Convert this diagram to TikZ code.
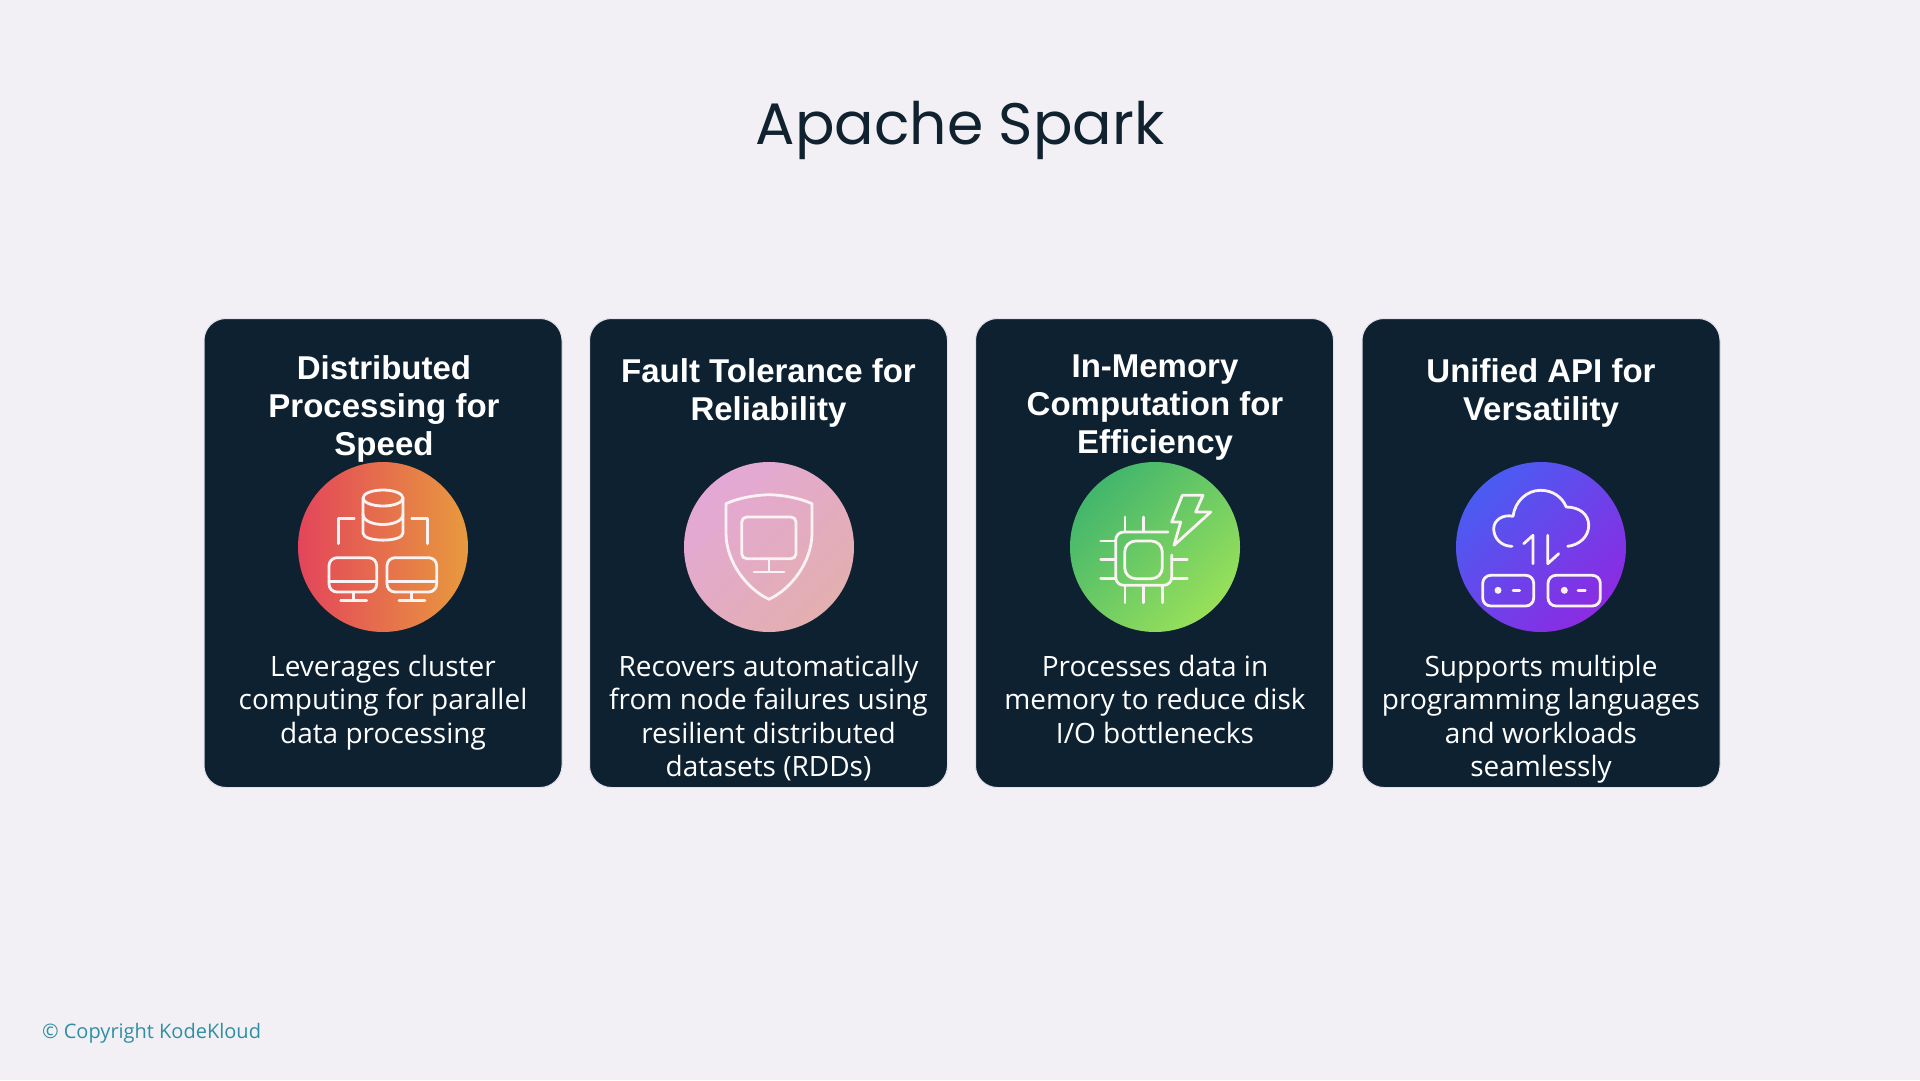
\documentclass[tikz,border=0pt]{standalone}
\usepackage{fontspec}
\setmainfont{Open Sans}
\newfontfamily\titlefont{Poppins}
\newfontfamily\headfont{Liberation Sans}
\usetikzlibrary{
    positioning,            % Relative positioning of nodes.
    shapes.geometric
}
\definecolor{pagebg}{HTML}{F2F0F4}
\definecolor{cardbg}{HTML}{0E2131}
\definecolor{cardedge}{HTML}{E2E2EC}
\definecolor{titleink}{HTML}{10222F}
\definecolor{footink}{HTML}{2E8FA3}
\definecolor{iconink}{HTML}{FBF3F3}
\definecolor{speedA}{HTML}{E3455A}
\definecolor{speedB}{HTML}{E2824D}
\definecolor{speedC}{HTML}{E89A3E}
\definecolor{faultA}{HTML}{E3A8D6}
\definecolor{faultB}{HTML}{E3AFAF}
\definecolor{memoryA}{HTML}{42B66C}
\definecolor{memoryB}{HTML}{98E05B}
\definecolor{unifiedA}{HTML}{4A5CF2}
\definecolor{unifiedB}{HTML}{8B2BE2}

\begin{document}
\begin{tikzpicture}[x=1pt, y=-1pt, line join=round,
        card/.style={draw=cardedge, line width=1pt, fill=cardbg, rounded corners=22pt,
            minimum width=358pt, minimum height=469pt},
        cardhead/.style={text=white, align=center, font=\headfont\fontsize{33}{38}\selectfont\bfseries, inner sep=0pt},
        cardbody/.style={text=white, align=center, anchor=north, font=\fontsize{28}{33.5}\selectfont, inner sep=0pt},
        iconcircle/.style={circle, minimum size=170pt, inner sep=0pt},
        iconline/.style={draw=iconink, line width=2.8pt, line cap=round}
    ]
    \useasboundingbox (0,0) rectangle (1920,1080);
    \fill[pagebg] (0,0) rectangle (1920,1080);

    \node[text=titleink, font=\titlefont\fontsize{58.5}{70}\selectfont] (title) at (960,130) {Apache Spark};
    \node[text=footink, anchor=west, font=\fontsize{20}{24}\selectfont] (foot) at (38.5,1033) {© Copyright KodeKloud};

    \node[card] (card1) at (383,553) {};
    \node[card] (card2) at (768.5,553) {};
    \node[card] (card3) at (1154.5,553) {};
    \node[card] (card4) at (1541,553) {};

    \node[cardhead] (head1) at (384,409) {Distributed\\Processing for\\Speed};
    \node[cardhead] (head2) at (768.5,393) {Fault Tolerance for\\Reliability};
    \node[cardhead] (head3) at (1155,408) {In-Memory\\Computation for\\Efficiency};
    \node[cardhead] (head4) at (1541,393) {Unified API for\\Versatility};

    \node[iconcircle, left color=speedA, middle color=speedB, right color=speedC] (icon1) at (383,547) {};
    \node[iconcircle, left color=faultA, right color=faultB, shading angle=45] (icon2) at (769,547) {};
    \node[iconcircle, left color=memoryA, right color=memoryB, shading angle=45] (icon3) at (1155,547) {};
    \node[iconcircle, left color=unifiedA, right color=unifiedB, shading angle=45] (icon4) at (1541,547) {};

    \node[cardbody] (body1) at (383,652.5) {\strut Leverages cluster\\computing for parallel\\data processing};
    \node[cardbody] (body2) at (768.5,652.5) {\strut Recovers automatically\\from node failures using\\resilient distributed\\datasets (RDDs)};
    \node[cardbody] (body3) at (1155,652.5) {\strut Processes data in\\memory to reduce disk\\I/O bottlenecks};
    \node[cardbody] (body4) at (1541,652.5) {\strut Supports multiple\\programming languages\\and workloads\\seamlessly};

    % database and two monitors
    \begin{scope}[shift={(icon1.center)}]
        \draw[iconline] (0,-49) ellipse [x radius=20, y radius=8];
        \draw[iconline] (-20,-49) -- (-20,-14) .. controls (-20,-4.5) and (20,-4.5) .. (20,-14) -- (20,-49);
        \draw[iconline] (-20,-33) .. controls (-20,-19) and (20,-19) .. (20,-33);
        \draw[iconline] (-44.7,-3.3) -- (-44.7,-28.3) -- (-28.7,-28.3);
        \draw[iconline] (44.7,-3.3) -- (44.7,-28.3) -- (28.7,-28.3);
        \draw[iconline, rounded corners=8pt] (-54,10.7) rectangle (-6.3,45);
        \draw[iconline] (-54,34.3) -- (-6.3,34.3);
        \draw[iconline] (-29.7,45) -- (-29.7,53.3);
        \draw[iconline] (-42.3,53.3) -- (-16.3,53.3);
        \draw[iconline, rounded corners=8pt] (4,10.7) rectangle (53.7,45);
        \draw[iconline] (4,34.3) -- (53.7,34.3);
        \draw[iconline] (28.7,45) -- (28.7,53.3);
        \draw[iconline] (16,53.3) -- (42,53.3);
    \end{scope}

    % shield with a monitor
    \begin{scope}[shift={(icon2.center)}]
        \draw[iconline] (0,-52.3) .. controls (-15,-52) and (-32,-48.5) .. (-43,-43.3)
            -- (-43,-14) .. controls (-43,15) and (-22,42) .. (0,52.3)
            .. controls (22,42) and (43,15) .. (43,-14)
            -- (43,-43.3) .. controls (32,-48.5) and (15,-52) .. (0,-52.3) -- cycle;
        \draw[iconline, rounded corners=5pt] (-27.3,-30) rectangle (27,11.7);
        \draw[iconline] (0,11.7) -- (0,25);
        \draw[iconline] (-15,25) -- (15,25);
    \end{scope}

    % chip with a bolt
    \begin{scope}[shift={(icon3.center)}]
        \draw[iconline, rounded corners=8pt] (13,-15) -- (-39.3,-15) -- (-39.3,38.3) -- (16.7,38.3) -- (16.7,8);
        \draw[iconline, rounded corners=11pt] (-30.3,-6) rectangle (7.3,31.7);
        \draw[iconline] (-30,-30) -- (-30,-15);
        \draw[iconline] (-11.7,-30) -- (-11.7,-15);
        \draw[iconline] (-30,38.3) -- (-30,55.7);
        \draw[iconline] (-11.7,38.3) -- (-11.7,55.7);
        \draw[iconline] (7.3,38.3) -- (7.3,55.7);
        \draw[iconline] (-54.3,-6) -- (-39.3,-6);
        \draw[iconline] (-54.3,12.7) -- (-39.3,12.7);
        \draw[iconline] (-54.3,31.7) -- (-39.3,31.7);
        \draw[iconline] (16.7,12.7) -- (32.3,12.7);
        \draw[iconline] (16.7,31.7) -- (32.3,31.7);
        \draw[iconline] (27.3,-51.7) -- (48,-51.7) -- (40.7,-35) -- (55.7,-35) -- (19,-1.7) -- (25.7,-25) -- (16.7,-25) -- cycle;
    \end{scope}

    % cloud with two servers
    \begin{scope}[shift={(icon4.center)}]
        \draw[iconline] (-29,-0.7) .. controls (-40,-0.7) and (-47.3,-9) .. (-47.3,-18.3)
            .. controls (-47.3,-27) and (-38,-33) .. (-28,-30.7)
            .. controls (-26,-46) and (-14,-56.7) .. (-0.7,-56.7)
            .. controls (12,-56.7) and (21,-50) .. (25.3,-40)
            .. controls (38,-40) and (47.7,-33) .. (47.7,-21.7)
            .. controls (47.7,-10) and (38,-2) .. (26.7,-0.7);
        \draw[iconline] (-17.3,-3.3) -- (-8,-11.7) -- (-8,16.7);
        \draw[iconline] (6.7,-11.7) -- (6.7,16.7) -- (17.7,6.7);
        \draw[iconline, rounded corners=8pt] (-58.3,28.3) rectangle (-7.3,59);
        \draw[iconline, rounded corners=8pt] (7,28.3) rectangle (59.3,59);
        \fill[iconink] (-43,43.3) circle (3.5);
        \draw[iconline] (-28,43.3) -- (-21.3,43.3);
        \fill[iconink] (23.3,43.3) circle (3.5);
        \draw[iconline] (37,43.3) -- (44.3,43.3);
    \end{scope}
\end{tikzpicture}
\end{document}
